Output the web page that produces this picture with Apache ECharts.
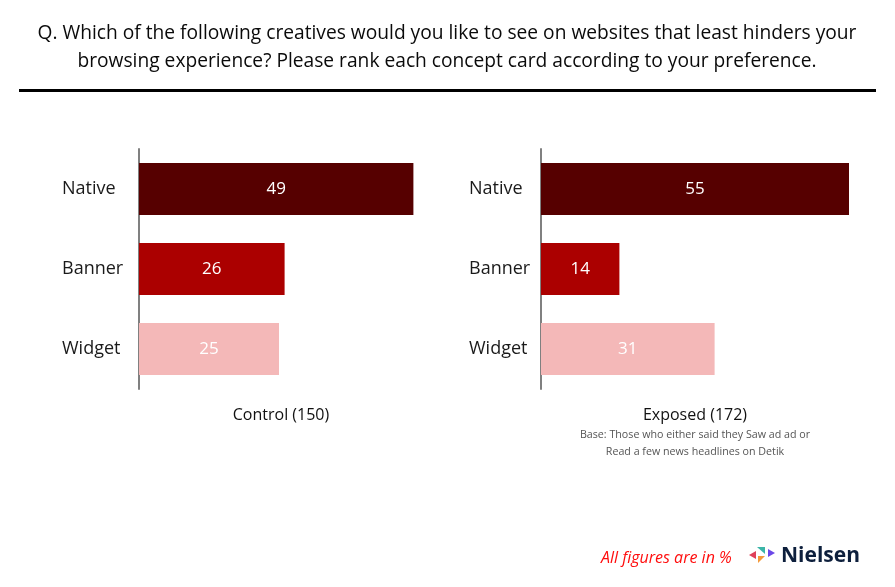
<!DOCTYPE html>
<html>
<head>
<meta charset="utf-8">
<script src="https://cdn.jsdelivr.net/npm/echarts@6/dist/echarts.min.js"></script>
<style>
html,body{margin:0;padding:0;background:#fff;}
#chart{width:895px;height:587px;}
</style>
</head>
<body>
<div id="chart"></div>
<script>
const categories = ['Native', 'Banner', 'Widget'];
const controlValues = [49, 26, 25];
const exposedValues = [55, 14, 31];
const barColors = ['#560000', '#ab0000', '#f4b8b8'];
const panelTitles = ['Control (150)', 'Exposed (172)'];
const baseNote = 'Base: Those who either said they Saw ad ad or\nRead a few news headlines on Detik';
const questionText = 'Q. Which of the following creatives would you like to see on websites that least hinders your\nbrowsing experience? Please rank each concept card according to your preference.';

const FONT = '"Open Sans", "Noto Sans", sans-serif';
const chart = echarts.init(document.getElementById('chart'));

function makeData(vals) {
  return vals.map((v, i) => ({ value: v, itemStyle: { color: barColors[i] } }));
}

const yAxisCommon = (margin) => ({
  type: 'category',
  data: categories,
  inverse: true,
  axisLine: { show: true, lineStyle: { color: '#808080', width: 2 } },
  axisTick: { show: false },
  axisLabel: { margin: margin, align: 'left', color: '#1a1a1a', fontSize: 18, fontFamily: FONT }
});

const xAxisCommon = { type: 'value', min: 0, max: 60, show: false };

const labelStyle = { show: true, position: 'inside', color: '#ffffff', fontSize: 17, fontFamily: FONT };

chart.setOption({
  animation: false,
  backgroundColor: '#ffffff',
  title: [
    { text: questionText, left: 442, top: 15, textAlign: 'center',
      textStyle: { fontFamily: FONT, fontSize: 19.2, fontWeight: 'normal', color: '#0a0a0a', lineHeight: 28 } },
    { text: panelTitles[0], left: 276, top: 402, textAlign: 'center',
      textStyle: { fontFamily: FONT, fontSize: 16, fontWeight: 'normal', color: '#111' } },
    { text: panelTitles[1], left: 690, top: 402, textAlign: 'center',
      textStyle: { fontFamily: FONT, fontSize: 16, fontWeight: 'normal', color: '#111' } },
    { text: baseNote, left: 690, top: 422, textAlign: 'center',
      textStyle: { fontFamily: FONT, fontSize: 10.7, fontWeight: 'normal', color: '#555', lineHeight: 16.5 } },
    { text: 'All figures are in %', left: 596, top: 545,
      textStyle: { fontFamily: FONT, fontSize: 16, fontStyle: 'italic', fontWeight: 'normal', color: '#ff0d0d' } },
    { text: 'Nielsen', left: 776, top: 541,
      textStyle: { fontFamily: FONT, fontSize: 21, fontWeight: 'bold', color: '#0d1f3c' } }
  ],
  graphic: [
    { type: 'rect', shape: { x: 19, y: 89, width: 857, height: 3 }, style: { fill: '#000' } },
    { type: 'polygon', shape: { points: [[749, 555], [756, 551], [756, 559]] }, style: { fill: '#e0405a' } },
    { type: 'polygon', shape: { points: [[757, 547], [765, 547], [765, 554]] }, style: { fill: '#3bb5a8' } },
    { type: 'polygon', shape: { points: [[768, 549], [775, 553], [768, 557]] }, style: { fill: '#6c48e8' } },
    { type: 'polygon', shape: { points: [[758, 556], [765, 556], [758, 563]] }, style: { fill: '#f59a3a' } }
  ],
  grid: [
    { left: 139, top: 149, width: 336, height: 240 },
    { left: 541, top: 149, width: 336, height: 240 }
  ],
  xAxis: [
    Object.assign({ gridIndex: 0 }, xAxisCommon),
    Object.assign({ gridIndex: 1 }, xAxisCommon)
  ],
  yAxis: [
    Object.assign({ gridIndex: 0 }, yAxisCommon(77)),
    Object.assign({ gridIndex: 1 }, yAxisCommon(72))
  ],
  series: [
    { type: 'bar', xAxisIndex: 0, yAxisIndex: 0, barWidth: 52, data: makeData(controlValues), label: labelStyle },
    { type: 'bar', xAxisIndex: 1, yAxisIndex: 1, barWidth: 52, data: makeData(exposedValues), label: labelStyle }
  ]
});
</script>
</body>
</html>
